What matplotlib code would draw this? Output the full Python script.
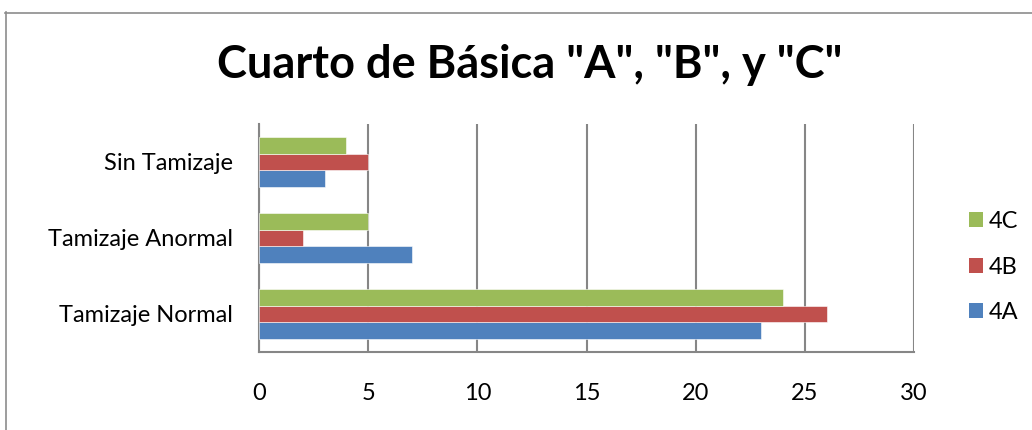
import matplotlib
matplotlib.use("Agg")
import matplotlib.pyplot as plt
from matplotlib.lines import Line2D
from matplotlib.patches import Patch
import numpy as np

categories = ["Tamizaje Normal", "Tamizaje Anormal", "Sin Tamizaje"]
series_names = ["4A", "4B", "4C"]
values_4a = [23, 7, 3]
values_4b = [26, 2, 5]
values_4c = [24, 5, 4]
x_ticks = [0, 5, 10, 15, 20, 25, 30]
title = 'Cuarto de Básica "A", "B", y "C"'

colors = ["#4F81BD", "#C0504D", "#9BBB59"]
grid_color = "#868686"
font = ["Lato", "DejaVu Sans"]

W, H = 1032, 430
fig = plt.figure(figsize=(W / 100, H / 100), dpi=100)
fig.patch.set_facecolor("white")

# outer chart frame (left and top edges)
fig.add_artist(Line2D([5.5 / W, 5.5 / W], [0, 1 - 12 / H], color="#8c8c8c", lw=1.2))
fig.add_artist(Line2D([5 / W, 1], [1 - 12.5 / H, 1 - 12.5 / H], color="#8c8c8c", lw=1.2))

left, right = 259 / W, 914 / W
top, bottom = 1 - 124 / H, 1 - 352 / H
ax = fig.add_axes([left, bottom, right - left, top - bottom])

y = np.arange(len(categories))
h = 0.22
for i, (vals, name) in enumerate(zip([values_4a, values_4b, values_4c], series_names)):
    ax.barh(y + (i - 1) * h, vals, height=h, color=colors[i], label=name,
            edgecolor="white", linewidth=0.4, zorder=3)

ax.set_xlim(0, 30)
ax.set_ylim(-0.5, len(categories) - 0.5)
ax.set_xticks(x_ticks)
ax.set_xticklabels([str(t) for t in x_ticks], fontsize=17, family=font)
ax.set_yticks(y)
ax.set_yticklabels(categories, fontsize=17, family=font)
ax.tick_params(axis="x", length=0, pad=22)
ax.tick_params(axis="y", length=0, pad=18.5)
ax.xaxis.grid(True, color=grid_color, lw=1.5, zorder=0)
for s in ["top", "right"]:
    ax.spines[s].set_visible(False)
for s in ["left", "bottom"]:
    ax.spines[s].set_color(grid_color)
    ax.spines[s].set_linewidth(1.5)

fig.text(530 / W, 1 - 65 / H, title, ha="center", va="center",
         fontsize=32.5, fontweight="bold", family=font)

handles = [Patch(facecolor=colors[i]) for i in (2, 1, 0)]
labels = [series_names[i] for i in (2, 1, 0)]
fig.legend(handles, labels, loc="center left", bbox_to_anchor=(969 / W, 1 - 267 / H),
           frameon=False, prop={"family": font, "size": 17},
           handlelength=0.6, handleheight=0.6, handletextpad=0.25, labelspacing=1.05,
           borderaxespad=0, borderpad=0)

fig.savefig("out.png", dpi=100, facecolor="white")
